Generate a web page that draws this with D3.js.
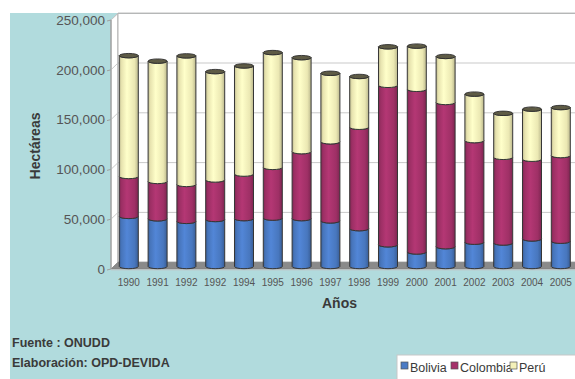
<!DOCTYPE html>
<html>
<head>
<meta charset="utf-8">
<script src="https://cdn.jsdelivr.net/npm/d3@7"></script>
<style>
  html, body { margin: 0; padding: 0; background: #ffffff; }
  svg { display: block; font-family: "Liberation Sans", Arial, sans-serif; }
</style>
</head>
<body>
<svg id="chart" width="575" height="379"></svg>
<script>
// Coca cultivation in the Andean region (hectares)
const years    = ["1990","1991","1992","1992","1994","1995","1996","1997","1998","1999","2000","2001","2002","2003","2004","2005"];
const bolivia  = [50300, 47900, 45300, 47200, 48100, 48600, 48100, 45800, 38000, 21800, 14600, 19900, 24400, 23600, 27700, 25400];
const colombia = [40100, 37500, 37100, 39700, 44700, 50900, 67200, 79400, 101800, 160100, 163300, 144800, 102000, 86000, 80000, 86000];
const peru     = [121300, 120800, 129100, 108800, 108600, 115300, 94400, 68800, 51000, 38700, 43400, 46200, 46700, 44200, 50300, 48200];
const seriesNames = ["Bolivia", "Colombia", "Perú"];
const yTicks = [0, 50000, 100000, 150000, 200000, 250000];

const colors = { "Bolivia": "#4b7bc5", "Colombia": "#a5326a", "Perú": "#f4f0b9" };

const svg = d3.select("#chart");
const W = 575, H = 379;

// panel background
svg.append("rect").attr("x", 10).attr("y", 13).attr("width", W - 10).attr("height", H - 13)
  .attr("fill", "#b1dbdd");

const y = d3.scaleLinear().domain([0, 250000]).range([266.5, 17.5]);
const front = v => y(v) + 2.5;   // front edge of the left wall
const back  = v => y(v) - 4.3;   // back wall
const xFront = 111, xBack = 118;

const x = d3.scaleBand().domain(d3.range(years.length))
  .range([114.4, 575.2]).paddingInner(0.34).paddingOuter(0.17);

// walls
svg.append("polygon")
  .attr("points", [[xFront, front(250000)], [xBack, back(250000)], [xBack, back(0)], [xFront, front(0)]].join(" "))
  .attr("fill", "#ffffff").attr("stroke", "#a0a0a0").attr("stroke-width", 1);
svg.append("rect").attr("x", xBack).attr("y", back(250000)).attr("width", W - xBack + 2)
  .attr("height", back(0) - back(250000)).attr("fill", "#ffffff");

// gridlines on both walls
const grid = svg.append("g").attr("stroke", "#c9c9c9").attr("stroke-width", 1).attr("fill", "none");
yTicks.forEach(v => {
  grid.append("line").attr("x1", xFront).attr("y1", front(v)).attr("x2", xBack).attr("y2", back(v));
  grid.append("line").attr("x1", xBack).attr("y1", back(v)).attr("x2", W + 2).attr("y2", back(v))
    .attr("stroke", v === 250000 ? "#9a9a9a" : "#c9c9c9");
});
svg.append("line").attr("x1", xBack).attr("y1", back(250000)).attr("x2", xBack).attr("y2", back(0))
  .attr("stroke", "#b5b5b5");

// floor
svg.append("polygon")
  .attr("points", [[xFront, front(0)], [xBack, back(0)], [W + 2, back(0)], [W + 2, front(0)]].join(" "))
  .attr("fill", "#8a8a8a").attr("stroke", "#7a7a7a").attr("stroke-width", 0.6);
svg.append("line").attr("x1", xFront).attr("y1", front(0) + 0.8).attr("x2", W + 2).attr("y2", front(0) + 0.8)
  .attr("stroke", "#c4c4c4").attr("stroke-width", 1);

// y axis: front edge, ticks, labels
svg.append("line").attr("x1", xFront).attr("y1", front(250000)).attr("x2", xFront).attr("y2", front(0))
  .attr("stroke", "#a0a0a0");
const yAxis = svg.append("g");
yTicks.forEach(v => {
  yAxis.append("line").attr("x1", xFront - 4).attr("y1", front(v) + 1).attr("x2", xFront).attr("y2", front(v))
    .attr("stroke", "#a0a0a0");
  yAxis.append("text").attr("x", 105).attr("y", front(v)).attr("dy", "0.36em")
    .attr("text-anchor", "end").attr("font-size", 13.5).attr("fill", "#555555")
    .text(d3.format(",")(v));
});

// cylinder shading
const defs = svg.append("defs");
seriesNames.forEach((name, i) => {
  const base = d3.color(colors[name]);
  const g = defs.append("linearGradient").attr("id", "cyl" + i).attr("x1", "0").attr("x2", "1").attr("y1", "0").attr("y2", "0");
  g.append("stop").attr("offset", "0%").attr("stop-color", base.darker(0.7));
  g.append("stop").attr("offset", "12%").attr("stop-color", base.darker(0.15));
  g.append("stop").attr("offset", "40%").attr("stop-color", base.brighter(0.25));
  g.append("stop").attr("offset", "80%").attr("stop-color", base.darker(0.1));
  g.append("stop").attr("offset", "100%").attr("stop-color", base.darker(0.75));
});

// stacked data
const table = years.map((yr, i) => ({ i, "Bolivia": bolivia[i], "Colombia": colombia[i], "Perú": peru[i] }));
const stack = d3.stack().keys(seriesNames)(table);

const ry = 2.2;
const bars = svg.append("g");
stack.forEach((layer, si) => {
  layer.forEach(seg => {
    const i = seg.data.i;
    const xl = x(i), xr = x(i) + x.bandwidth(), rx = x.bandwidth() / 2;
    const yTop = y(seg[1]), yBot = y(seg[0]);
    const p = `M${xl},${yTop} A${rx},${ry} 0 0 0 ${xr},${yTop} L${xr},${yBot} A${rx},${ry} 0 0 1 ${xl},${yBot} Z`;
    bars.append("path").attr("d", p).attr("fill", `url(#cyl${si})`)
      .attr("stroke", "#363636").attr("stroke-width", 1);
  });
});
// caps on top of every column
const last = stack[stack.length - 1];
last.forEach(seg => {
  const i = seg.data.i;
  bars.append("ellipse").attr("cx", x(i) + x.bandwidth() / 2).attr("cy", y(seg[1]))
    .attr("rx", x.bandwidth() / 2).attr("ry", ry)
    .attr("fill", "#5e5b45").attr("stroke", "#2e2e2e").attr("stroke-width", 0.9);
});

// x axis labels
const xAxis = svg.append("g");
years.forEach((yr, i) => {
  xAxis.append("text").attr("x", x(i) + x.bandwidth() / 2).attr("y", 285.5)
    .attr("text-anchor", "middle").attr("font-size", 10).attr("fill", "#555555").text(yr);
});

// axis titles
svg.append("text").attr("x", 339.5).attr("y", 308).attr("text-anchor", "middle")
  .attr("font-size", 14).attr("font-weight", "bold").attr("fill", "#3a3a3a").text("Años");
svg.append("text").attr("transform", "translate(40,146) rotate(-90)").attr("text-anchor", "middle")
  .attr("font-size", 14).attr("font-weight", "bold").attr("fill", "#3a3a3a").text("Hectáreas");

// source notes
svg.append("text").attr("x", 12).attr("y", 347).attr("font-size", 12.5).attr("font-weight", "bold")
  .attr("fill", "#3a3a3a").text("Fuente : ONUDD");
svg.append("text").attr("x", 12).attr("y", 367).attr("font-size", 12.5).attr("font-weight", "bold")
  .attr("fill", "#3a3a3a").text("Elaboración: OPD-DEVIDA");

// legend
const lg = svg.append("g");
lg.append("rect").attr("x", 397).attr("y", 355).attr("width", W - 397 + 2).attr("height", H - 355 + 2)
  .attr("fill", "#ffffff").attr("stroke", "#c8c8c8");
const legendX = [401, 451, 510];
seriesNames.forEach((name, i) => {
  lg.append("rect").attr("x", legendX[i]).attr("y", 362).attr("width", 7).attr("height", 7)
    .attr("fill", colors[name]).attr("stroke", "#555555").attr("stroke-width", 0.7);
  lg.append("text").attr("x", legendX[i] + 9).attr("y", 371.5).attr("font-size", 12.5)
    .attr("fill", "#3a3a3a").text(name);
});
</script>
</body>
</html>
